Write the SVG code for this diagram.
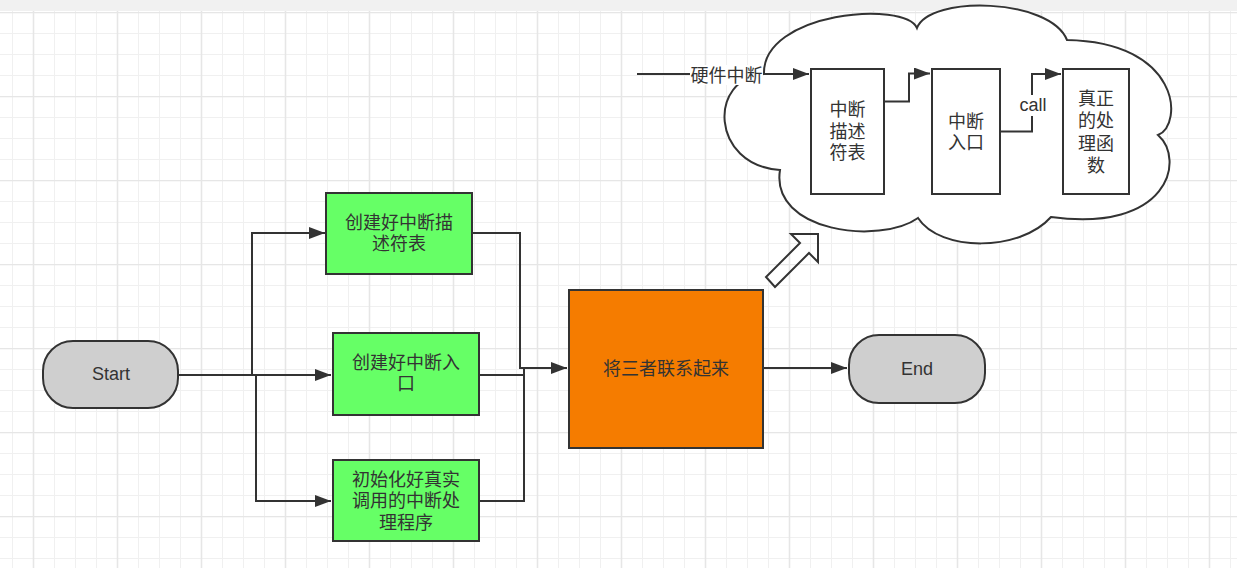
<svg xmlns="http://www.w3.org/2000/svg" width="1237" height="568" viewBox="0 0 1237 568">
<defs>
<pattern id="grid" patternUnits="userSpaceOnUse" x="12" y="12" width="84" height="84">
<rect width="84" height="84" fill="#ffffff"/>
<path d="M0 21.5H84M0 42.5H84M0 63.5H84M0.5 0V84M42.5 0V84M63.5 0V84" stroke="#f0f0f0" stroke-width="1" fill="none"/>
<path d="M0 0.5H84M21.5 0V84" stroke="#e6e6e6" stroke-width="1.5" fill="none"/>
</pattern>
<marker id="arr" viewBox="0 0 16 12" refX="16" refY="6" markerWidth="16" markerHeight="12" markerUnits="userSpaceOnUse" orient="auto">
<path d="M0 0L16 6L0 12Z" fill="#333333"/>
</marker>
<style>
.ln{fill:none;stroke:#333333;stroke-width:2}
.box{stroke:#333333;stroke-width:2}
.t{font-family:"Liberation Sans","Noto Sans CJK SC",sans-serif;font-size:18px;fill:#333333;text-anchor:middle;dominant-baseline:central}
</style>
</defs>
<rect width="1237" height="568" fill="url(#grid)"/>
<rect width="1237" height="11" fill="#f1f1f1"/>

<g id="cloud">
<path class="box" fill="#ffffff" d="M764 74C708 78 710 165 780 170C770 232 880 245 918 218C940 252 1020 252 1051 217C1168 233 1186 160 1158 135C1184 124 1180 42 1067 40C1050 -2 930 -5 917 28C905 0 762 12 764 74Z"/>
</g>

<g id="connectors">
<path class="ln" d="M178 375H256V501H331" marker-end="url(#arr)"/>
<path class="ln" d="M252 375V233H325" marker-end="url(#arr)"/>
<path class="ln" d="M256 375H331" marker-end="url(#arr)"/>
<path class="ln" d="M472 233H520V368H567" marker-end="url(#arr)"/>
<path class="ln" d="M479 375H524V368"/>
<path class="ln" d="M479 501H524V368"/>
<path class="ln" d="M763 368H847" marker-end="url(#arr)"/>
<path class="ln" d="M637 74H809" marker-end="url(#arr)"/>
<path class="ln" d="M884 101.5H909V73.5H930" marker-end="url(#arr)"/>
<path class="ln" d="M1000 131.5H1032V74H1061" marker-end="url(#arr)"/>
<rect x="690" y="65" width="73" height="20" fill="#ffffff"/>
<text class="t" x="726.5" y="76">硬件中断</text>
<rect x="1019" y="95" width="28" height="21" fill="#ffffff"/>
<text class="t" x="1033" y="105">call</text>
<polygon class="ln" points="791,234 818,234 818,262 809,253 775,287 766,277 800,243"/>
</g>

<g id="start">
<rect class="box" x="43" y="341" width="135" height="67" rx="30" ry="30" fill="#cfcfcf"/>
<text class="t" x="111" y="374">Start</text>
</g>

<g id="n1">
<rect class="box" x="326" y="193" width="146" height="81" fill="#66ff66"/>
<text class="t" x="399" y="222.5">创建好中断描</text>
<text class="t" x="399" y="243.5">述符表</text>
</g>

<g id="n2">
<rect class="box" x="333" y="333" width="146" height="82" fill="#66ff66"/>
<text class="t" x="406" y="363">创建好中断入</text>
<text class="t" x="406" y="384">口</text>
</g>

<g id="n3">
<rect class="box" x="333" y="460" width="146" height="81" fill="#66ff66"/>
<text class="t" x="406" y="479.5">初始化好真实</text>
<text class="t" x="406" y="501">调用的中断处</text>
<text class="t" x="406" y="522.5">理程序</text>
</g>

<g id="link">
<rect class="box" x="569" y="290" width="194" height="158" fill="#f57c00"/>
<text class="t" x="666" y="369">将三者联系起来</text>
</g>

<g id="end">
<rect class="box" x="849" y="335" width="136" height="68" rx="30" ry="30" fill="#cfcfcf"/>
<text class="t" x="917" y="369">End</text>
</g>

<g id="idt">
<rect class="box" x="811" y="69" width="73" height="125" fill="#ffffff"/>
<text class="t" x="847.5" y="110">中断</text>
<text class="t" x="847.5" y="131.5">描述</text>
<text class="t" x="847.5" y="153">符表</text>
</g>

<g id="entry">
<rect class="box" x="932" y="69" width="68" height="125" fill="#ffffff"/>
<text class="t" x="966" y="121.5">中断</text>
<text class="t" x="966" y="143">入口</text>
</g>

<g id="handler">
<rect class="box" x="1063" y="69" width="66" height="125" fill="#ffffff"/>
<text class="t" x="1096" y="98.5">真正</text>
<text class="t" x="1096" y="121">的处</text>
<text class="t" x="1096" y="143.5">理函</text>
<text class="t" x="1096" y="165.5">数</text>
</g>
</svg>
